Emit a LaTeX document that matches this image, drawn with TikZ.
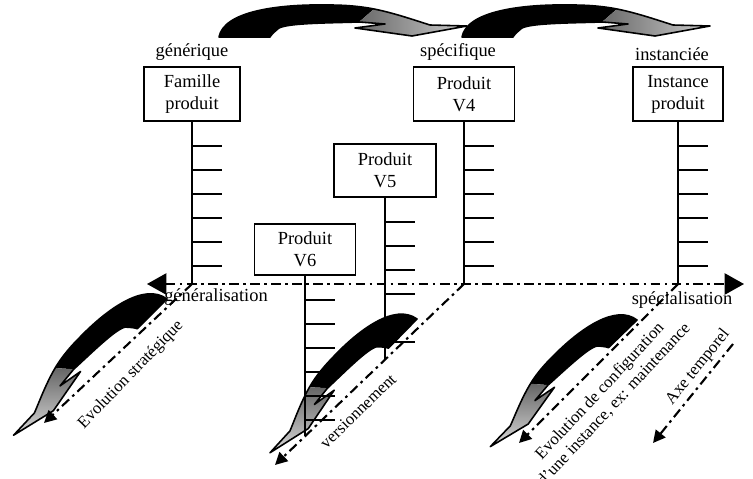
\documentclass[tikz,border=0pt]{standalone}
\usepackage{fontspec}
\setmainfont{Liberation Serif}
\usetikzlibrary{arrows.meta, positioning}

\begin{document}
\begin{tikzpicture}[
  x=0.02cm, y=-0.02cm,
  box/.style={rectangle, draw, line width=1.1pt, align=center, inner sep=1pt, minimum height=1.08cm, font=\fontsize{10.5}{12.5}\selectfont},
  lbl/.style={inner sep=0pt, font=\fontsize{10.5}{12.5}\selectfont},
  tilted/.style={inner sep=0pt, align=center, font=\fontsize{9.5}{11}\selectfont},
  stem/.style={line width=1.1pt},
  axis/.style={line width=1.2pt, dash pattern=on 5.5pt off 2.5pt on 1.5pt off 2.5pt},
  mainline/.style={axis, {Triangle[length=11pt, width=12pt]}-{Triangle[length=11pt, width=12pt]}},
  timeline/.style={axis, -{Triangle[length=7pt, width=7pt]}},
  bendarrow/.pic={
    \fill (0,0) .. controls (5,-26) and (60,-33) .. (110,-32)
      .. controls (130,-32) and (145,-30) .. (155,-28) -- (140,-15)
      .. controls (110,-14) and (70,-14) .. (60,-9)
      .. controls (55,-5) and (52,-2) .. (51,0) -- cycle;
    \shade[#1] (155,-28) .. controls (175,-24) and (195,-17) .. (211,-12)
      -- (248,-11) -- (193,-1) -- (136,-9) -- (166,-13) -- (140,-15) -- cycle;
    \draw[line width=0.9pt, line join=round] (0,0) .. controls (5,-26) and (60,-33) .. (110,-32)
      .. controls (130,-32) and (145,-30) .. (155,-28)
      .. controls (175,-24) and (195,-17) .. (211,-12) -- (248,-11) -- (193,-1)
      -- (136,-9) -- (166,-13) -- (140,-15)
      .. controls (110,-14) and (70,-14) .. (60,-9)
      .. controls (55,-5) and (52,-2) .. (51,0) -- cycle;
  }
]
\useasboundingbox (0,0) rectangle (753,479);

% bent arrows (drawn first, everything else on top)
\begin{scope}[shift={(219,37)}]
  \pic {bendarrow={left color=black!60, right color=black!20}};
\end{scope}
\begin{scope}[shift={(462,37)}]
  \pic {bendarrow={left color=black!60, right color=black!20}};
\end{scope}
\begin{scope}[shift={(167,299)}, rotate=224.9, yscale=-1.3, scale=0.826]
  \pic[transform shape] {bendarrow={top color=black!60, bottom color=black!15}};
\end{scope}
\begin{scope}[shift={(417,319)}, rotate=225.6, yscale=-1.3, scale=0.80]
  \pic[transform shape] {bendarrow={top color=black!60, bottom color=black!15}};
\end{scope}
\begin{scope}[shift={(637,320)}, rotate=224.1, yscale=-1.3, scale=0.78]
  \pic[transform shape] {bendarrow={top color=black!60, bottom color=black!15}};
\end{scope}

\node[box, minimum width=1.92cm] (fam) at (192,94) {Famille\\produit};
\node[box, minimum width=2.02cm] (v4) at (464,94) {Produit\\V4};
\node[box, minimum width=1.80cm] (inst) at (678,94) {Instance\\produit};
\node[box, minimum width=2.04cm, minimum height=1.06cm] (v5) at (385,170.5) {Produit\\V5};
\node[box, minimum width=2.02cm, minimum height=1.02cm] (v6) at (305,249.5) {Produit\\V6};

\node[lbl, above=1mm of fam] (generique) {générique};
\node[lbl, above=1mm of v4, xshift=-1.2mm] (specifique) {spécifique};
\node[lbl, above=1mm of inst, xshift=-1.2mm] (instanciee) {instanciée};

\coordinate (famfoot) at (192,284);
\coordinate (v4foot) at (464,284);
\coordinate (instfoot) at (678,284);
\coordinate (v5foot) at (385,360);
\coordinate (v6foot) at (305,436);
\coordinate (genend) at (147,284);
\coordinate (specend) at (744,284);
\coordinate (famtip) at (44,423);
\coordinate (v4tip) at (275,465);
\coordinate (insttip) at (519,443);
\coordinate (axestart) at (733,344);
\coordinate (axetip) at (653,443);

% stems with their ticks
\draw[stem] (fam.south) -- (famfoot);
\draw[stem] (v4.south) -- (v4foot);
\draw[stem] (inst.south) -- (instfoot);
\draw[stem] (v5.south) -- (v5foot);
\draw[stem] (v6.south) -- (v6foot);
\foreach \n in {fam, v4, inst, v5, v6}
  \foreach \k in {1,...,6}
    \draw[stem] ([yshift=-\k*0.48cm]\n.south) -- ++(30,0);

% axes
\draw[mainline] (genend) -- (specend);
\draw[timeline] (famfoot) -- (famtip);
\draw[timeline] (v4foot) -- (v4tip);
\draw[timeline] (instfoot) -- (insttip);
\draw[timeline] (axestart) -- (axetip);

\node[lbl] (genlbl) at (216,297) {généralisation};
\node[lbl] (speclbl) at (682,300) {spécialisation};
\node[tilted, rotate=46] (strat) at (131,375) {Evolution stratégique};
\node[tilted, rotate=44] (version) at (358,411) {versionnement};
\node[tilted, rotate=47] (config) at (607,398) {Evolution de configuration\\d’une instance, ex: maintenance};
\node[tilted, rotate=51] (temps) at (698,367) {Axe temporel};
\end{tikzpicture}
\end{document}
